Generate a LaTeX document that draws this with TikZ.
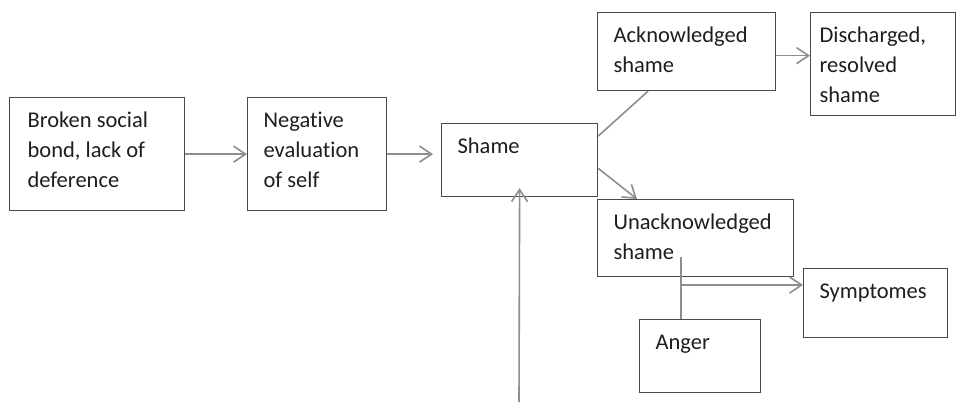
\documentclass[tikz,border=0pt]{standalone}
\usepackage{fontspec}
\setmainfont{Carlito}[Ligatures={NoCommon}]
\usetikzlibrary{arrows.meta}
\definecolor{boxgray}{HTML}{4A4A4A}
\definecolor{linkgray}{HTML}{8E8E8E}
\definecolor{textgray}{HTML}{1E1E1E}

\begin{document}
\begin{tikzpicture}[x=1pt,y=-1pt,
    box/.style={draw=boxgray, line width=1.2pt, anchor=north west,
        inner xsep=16pt, inner ysep=0pt, align=flush left, text=textgray,
        font=\fontsize{22.5}{30}\selectfont, text height=30pt},
    link/.style={draw=linkgray, line width=1.6pt},
    arr/.style={link, -{Straight Barb[length=12pt,width=16pt,line width=1.6pt]}}
]
    \useasboundingbox (0,0) rectangle (956,402);
    % boxes
    \node[box, inner xsep=18pt, text width=139pt, text depth=83pt] (bond) at (9,97) {Broken social\\bond, lack of\\deference};
    \node[box, text width=107pt, text depth=83pt] (neg) at (247,97) {Negative\\evaluation\\of self};
    \node[box, text width=124pt, text depth=43pt] (shame) at (441,123) {Shame};
    \node[box, text width=146pt, text depth=48pt] (ack) at (597,12) {Acknowledged\\shame};
    \node[box, inner xsep=9pt, text width=127pt, text depth=73pt] (dis) at (810,12) {Discharged,\\resolved\\shame};
    \node[box, text width=164pt, text depth=47pt] (unack) at (597,199) {Unacknowledged\\shame};
    \node[box, text width=112pt, text depth=39pt] (symp) at (803,268) {Symptomes};
    \node[box, text width=89pt, text depth=43pt] (anger) at (639,319) {Anger};
    % connectors
    \draw[arr] (bond.east) -- (neg.west);
    \draw[arr] (neg.east) -- ([xshift=-8pt]shame.west |- neg.east);
    \draw[link] (shame.17) -- ([xshift=51pt]ack.south west);
    \draw[arr] (shame.-6) -- ([xshift=40pt]unack.north west);
    \draw[arr] ([yshift=-4pt]ack.east) -- ([yshift=-4pt]ack.east -| dis.west);
    \coordinate (feed) at (519,402);
    \draw[arr] (feed) -- ([yshift=9pt]shame.south);
    \coordinate (stem) at (681,257);
    \coordinate (fork) at (681,285);
    \draw[link] (stem) -- (stem |- anger.north);
    \draw[arr] (fork) -- (fork -| symp.west);
\end{tikzpicture}
\end{document}
